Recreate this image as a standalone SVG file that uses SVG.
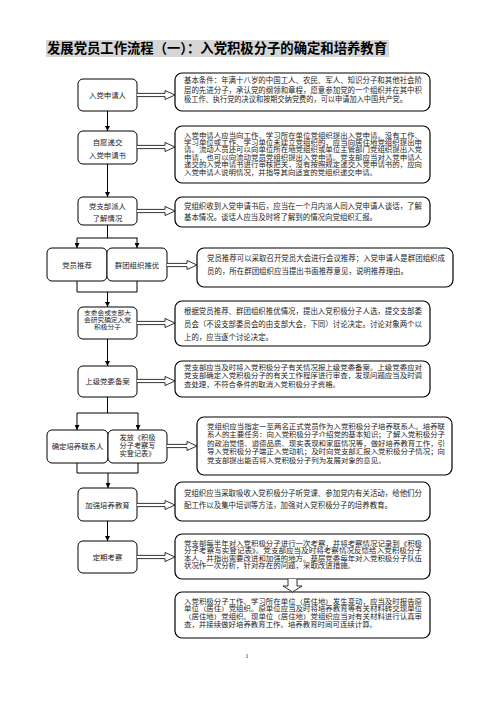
<svg xmlns="http://www.w3.org/2000/svg" width="496" height="702" viewBox="0 0 496 702">
<style>
.bg{fill:#fff}
.node rect{fill:#fff;stroke:#000;stroke-width:1}
.desc rect{fill:#fff;stroke:#000;stroke-width:1.2}
text{font-family:"Liberation Serif","Noto Sans CJK SC","Noto Sans CJK TC",serif;fill:#222}
.nt{font-size:7.4px;text-anchor:middle}
.n7{font-size:6.8px;text-anchor:middle}
.ns{font-size:5.9px;text-anchor:middle}
.dt{font-size:7.45px}
.dd{font-size:6.3px}
.title{font-size:13.6px;font-weight:bold;fill:#000}
.ln{fill:none;stroke:#000;stroke-width:1}
.ar{fill:none;stroke:#000;stroke-width:1;marker-end:url(#ah)}
.blk{fill:#fff;stroke:#000;stroke-width:0.8}
</style>
<defs>
<marker id="ah" viewBox="0 0 10 10" refX="10" refY="5" markerWidth="5" markerHeight="5" markerUnits="userSpaceOnUse" orient="auto">
<path d="M0,0 L10,5 L0,10 Z" fill="#000"/>
</marker>
</defs>
<rect class="bg" x="0" y="0" width="496" height="702"/>

<g id="title">
<rect x="46" y="40" width="343" height="17" fill="#d6d6d6"/>
<text class="title" x="47" y="53.2" textLength="340" lengthAdjust="spacingAndGlyphs">发展党员工作流程（一）：入党积极分子的确定和培养教育</text>
</g>

<g id="n1" class="node"><rect x="78" y="79" width="59" height="32" rx="5"/><text class="nt" x="107.5" y="97.6">入党申请人</text></g>
<g id="n2" class="node"><rect x="78" y="131" width="59" height="33" rx="5"/><text class="nt" x="107.5" y="145">自愿递交</text><text class="nt" x="107.5" y="157.6">入党申请书</text></g>
<g id="n3" class="node"><rect x="78" y="197" width="59" height="28" rx="5"/><text class="nt" x="107.5" y="209">党支部派人</text><text class="nt" x="107.5" y="221.4">了解情况</text></g>
<g id="n4a" class="node"><rect x="47" y="248" width="60" height="33" rx="5"/><text class="nt" x="77" y="267.6">党员推荐</text></g>
<g id="n4b" class="node"><rect x="107" y="248" width="60" height="33" rx="5"/><text class="nt" x="137" y="267.6">群团组织推优</text></g>
<g id="n5" class="node"><rect x="78" y="307" width="59" height="32" rx="5"/><text class="ns" x="107.5" y="315" textLength="47" lengthAdjust="spacingAndGlyphs">支委会或支部大</text><text class="ns" x="107.5" y="322.2" textLength="47" lengthAdjust="spacingAndGlyphs">会研究确定入党</text><text class="ns" x="107.5" y="329.4" textLength="27" lengthAdjust="spacingAndGlyphs">积极分子</text></g>
<g id="n6" class="node"><rect x="78" y="366" width="59" height="31" rx="5"/><text class="nt" x="107.5" y="383.6">上级党委备案</text></g>
<g id="n7a" class="node"><rect x="47" y="430" width="61" height="33" rx="5"/><text class="nt" x="77.5" y="448.6">确定培养联系人</text></g>
<g id="n7b" class="node"><rect x="108" y="430" width="59" height="33" rx="5"/><text class="n7" x="137.5" y="439.8" textLength="36" lengthAdjust="spacingAndGlyphs">发放《积极</text><text class="n7" x="137.5" y="447.8" textLength="36" lengthAdjust="spacingAndGlyphs">分子考察写</text><text class="n7" x="137.5" y="455.8" textLength="36" lengthAdjust="spacingAndGlyphs">实登记表》</text></g>
<g id="n8" class="node"><rect x="78" y="488" width="59" height="33" rx="5"/><text class="nt" x="107.5" y="507.6">加强培养教育</text></g>
<g id="n9" class="node"><rect x="78" y="541" width="59" height="32" rx="5"/><text class="nt" x="107.5" y="559.6">定期考察</text></g>

<g id="d1" class="desc"><rect x="175" y="73" width="255" height="38" rx="7"/>
<text class="dt" x="184" y="83.4" textLength="238" lengthAdjust="spacingAndGlyphs">基本条件：年满十八岁的中国工人、农民、军人、知识分子和其他社会阶</text>
<text class="dt" x="184" y="92.6" textLength="238" lengthAdjust="spacingAndGlyphs">层的先进分子，承认党的纲领和章程，愿意参加党的一个组织并在其中积</text>
<text class="dt" x="184" y="101.8" textLength="223" lengthAdjust="spacingAndGlyphs">极工作、执行党的决议和按期交纳党费的，可以申请加入中国共产党。</text>
</g>
<g id="d2" class="desc"><rect x="175" y="126" width="255" height="57" rx="7"/>
<text class="dd" x="184" y="137.6" textLength="238" lengthAdjust="spacingAndGlyphs">入党申请人应当向工作、学习所在单位党组织提出入党申请。没有工作、</text>
<text class="dd" x="184" y="145" textLength="238" lengthAdjust="spacingAndGlyphs">学习单位或工作、学习单位未建立党组织的，应当向居住地党组织提出申</text>
<text class="dd" x="184" y="152.4" textLength="238" lengthAdjust="spacingAndGlyphs">请。流动人员还可以向单位所在地党组织或单位主管部门党组织提出入党</text>
<text class="dd" x="184" y="159.8" textLength="238" lengthAdjust="spacingAndGlyphs">申请，也可以向流动党员党组织提出入党申请。党支部应当对入党申请人</text>
<text class="dd" x="184" y="167.2" textLength="238" lengthAdjust="spacingAndGlyphs">递交的入党申请书进行审核把关，没有按照规定递交入党申请书的，应向</text>
<text class="dd" x="184" y="174.6" textLength="193" lengthAdjust="spacingAndGlyphs">入党申请人说明情况，并指导其向适宜的党组织递交申请。</text>
</g>
<g id="d3" class="desc"><rect x="175" y="197" width="255" height="30" rx="7"/>
<text class="dt" x="184" y="209.3" textLength="238" lengthAdjust="spacingAndGlyphs">党组织收到入党申请书后，应当在一个月内派人同入党申请人谈话，了解</text>
<text class="dt" x="184" y="220.3" textLength="193" lengthAdjust="spacingAndGlyphs">基本情况。谈话人应当及时将了解到的情况向党组织汇报。</text>
</g>
<g id="d4" class="desc"><rect x="197" y="248" width="256" height="39" rx="7"/>
<text class="dt" x="207" y="260.6" textLength="238" lengthAdjust="spacingAndGlyphs">党员推荐可以采取召开党员大会进行会议推荐；入党申请人是群团组织成</text>
<text class="dt" x="207" y="274.4" textLength="201" lengthAdjust="spacingAndGlyphs">员的，所在群团组织应当提出书面推荐意见，说明推荐理由。</text>
</g>
<g id="d5" class="desc"><rect x="175" y="301" width="255" height="45" rx="7"/>
<text class="dt" x="184" y="314.3" textLength="238" lengthAdjust="spacingAndGlyphs">根据党员推荐、群团组织推优情况，提出入党积极分子人选，提交支部委</text>
<text class="dt" x="184" y="326.8" textLength="238" lengthAdjust="spacingAndGlyphs">员会（不设支部委员会的由支部大会，下同）讨论决定。讨论对象两个以</text>
<text class="dt" x="184" y="339.8" textLength="89" lengthAdjust="spacingAndGlyphs">上的，应当逐个讨论决定。</text>
</g>
<g id="d6" class="desc"><rect x="175" y="361" width="255" height="36" rx="7"/>
<text class="dd" x="184" y="369.6" textLength="238" lengthAdjust="spacingAndGlyphs">党支部应当及时将入党积极分子有关情况报上级党委备案。上级党委应对</text>
<text class="dd" x="184" y="378.1" textLength="238" lengthAdjust="spacingAndGlyphs">党支部确定入党积极分子的有关工作程序进行审查，发现问题应当及时调</text>
<text class="dd" x="184" y="386.6" textLength="156" lengthAdjust="spacingAndGlyphs">查处理，不符合条件的取消入党积极分子资格。</text>
</g>
<g id="d7" class="desc"><rect x="197" y="417" width="255" height="58" rx="7"/>
<text class="dd" x="207" y="428.6" textLength="238" lengthAdjust="spacingAndGlyphs">党组织应当指定一至两名正式党员作为入党积极分子培养联系人。培养联</text>
<text class="dd" x="207" y="437.1" textLength="238" lengthAdjust="spacingAndGlyphs">系人的主要任务：向入党积极分子介绍党的基本知识；了解入党积极分子</text>
<text class="dd" x="207" y="445.6" textLength="238" lengthAdjust="spacingAndGlyphs">的政治觉悟、道德品质、现实表现和家庭情况等，做好培养教育工作，引</text>
<text class="dd" x="207" y="454.1" textLength="238" lengthAdjust="spacingAndGlyphs">导入党积极分子端正入党动机；及时向党支部汇报入党积极分子情况；向</text>
<text class="dd" x="207" y="462.6" textLength="178.6" lengthAdjust="spacingAndGlyphs">党支部提出能否将入党积极分子列为发展对象的意见。</text>
</g>
<g id="d8" class="desc"><rect x="175" y="482" width="255" height="39" rx="7"/>
<text class="dt" x="184" y="495.8" textLength="238" lengthAdjust="spacingAndGlyphs">党组织应当采取吸收入党积极分子听党课、参加党内有关活动，给他们分</text>
<text class="dt" x="184" y="507.8" textLength="208" lengthAdjust="spacingAndGlyphs">配工作以及集中培训等方法，加强对入党积极分子的培养教育。</text>
</g>
<g id="d9" class="desc"><rect x="175" y="534" width="255" height="45" rx="7"/>
<text class="dd" x="184" y="545.6" textLength="238" lengthAdjust="spacingAndGlyphs">党支部每半年对入党积极分子进行一次考察，并将考察情况记录到《积极</text>
<text class="dd" x="184" y="553.1" textLength="238" lengthAdjust="spacingAndGlyphs">分子考察写实登记表》。党支部应当及时将考察情况反馈给入党积极分子</text>
<text class="dd" x="184" y="560.6" textLength="238" lengthAdjust="spacingAndGlyphs">本人，并指出需要改进和加强的地方。基层党委每年对入党积极分子队伍</text>
<text class="dd" x="184" y="568.1" textLength="171" lengthAdjust="spacingAndGlyphs">状况作一次分析，针对存在的问题，采取改进措施。</text>
</g>
<g id="d10" class="desc"><rect x="175" y="592" width="255" height="46" rx="7"/>
<text class="dd" x="184" y="603.6" textLength="238" lengthAdjust="spacingAndGlyphs">入党积极分子工作、学习所在单位（居住地）发生变动，应当及时报告原</text>
<text class="dd" x="184" y="611.3" textLength="238" lengthAdjust="spacingAndGlyphs">单位（居住）党组织。原单位应当及时将培养教育等有关材料转交现单位</text>
<text class="dd" x="184" y="619" textLength="238" lengthAdjust="spacingAndGlyphs">（居住地）党组织。现单位（居住地）党组织应当对有关材料进行认真审</text>
<text class="dd" x="184" y="626.7" textLength="193" lengthAdjust="spacingAndGlyphs">查，并接续做好培养教育工作。培养教育时间可连续计算。</text>
</g>

<g id="connectors">
<line class="ar" x1="107.5" y1="111" x2="107.5" y2="131"/>
<line class="ar" x1="107.5" y1="164" x2="107.5" y2="197"/>
<path class="ln" d="M107.5,225 V238 M77,238 H137.5"/>
<line class="ar" x1="77" y1="238" x2="77" y2="248"/>
<line class="ar" x1="137" y1="238" x2="137" y2="248"/>
<path class="ln" d="M77,281 V292 H137 V281"/>
<line class="ar" x1="107.5" y1="292" x2="107.5" y2="307"/>
<line class="ar" x1="107.5" y1="339" x2="107.5" y2="366"/>
<path class="ln" d="M107.5,397 V413 M77,413 H138"/>
<line class="ar" x1="77" y1="413" x2="77" y2="430"/>
<line class="ar" x1="138" y1="413" x2="138" y2="430"/>
<path class="ln" d="M77,463 V473 H138 V463"/>
<line class="ar" x1="108" y1="473" x2="108" y2="488"/>
<line class="ar" x1="107.5" y1="521" x2="107.5" y2="541"/>
<path class="blk" d="M137,93.4 H165 V90.5 L175,95 L165,99.5 V96.6 H137"/>
<path class="blk" d="M137,145.4 H165 V142.5 L175,147 L165,151.5 V148.6 H137"/>
<path class="blk" d="M137,209.4 H165 V206.5 L175,211 L165,215.5 V212.6 H137"/>
<path class="blk" d="M167,263.4 H187 V260.5 L197,265 L187,269.5 V266.6 H167"/>
<path class="blk" d="M137,321.4 H165 V318.5 L175,323 L165,327.5 V324.6 H137"/>
<path class="blk" d="M137,379.4 H165 V376.5 L175,381 L165,385.5 V382.6 H137"/>
<path class="blk" d="M167,444.4 H187 V441.5 L197,446 L187,450.5 V447.6 H167"/>
<path class="blk" d="M137,503.4 H165 V500.5 L175,505 L165,509.5 V506.6 H137"/>
<path class="blk" d="M137,555.4 H165 V552.5 L175,557 L165,561.5 V558.6 H137"/>
<path class="blk" d="M288,579 V586 H283 L292.5,592 L302,586 H297 V579"/>
</g>

<text id="page" x="247" y="658" font-size="6" text-anchor="middle">1</text>
</svg>
